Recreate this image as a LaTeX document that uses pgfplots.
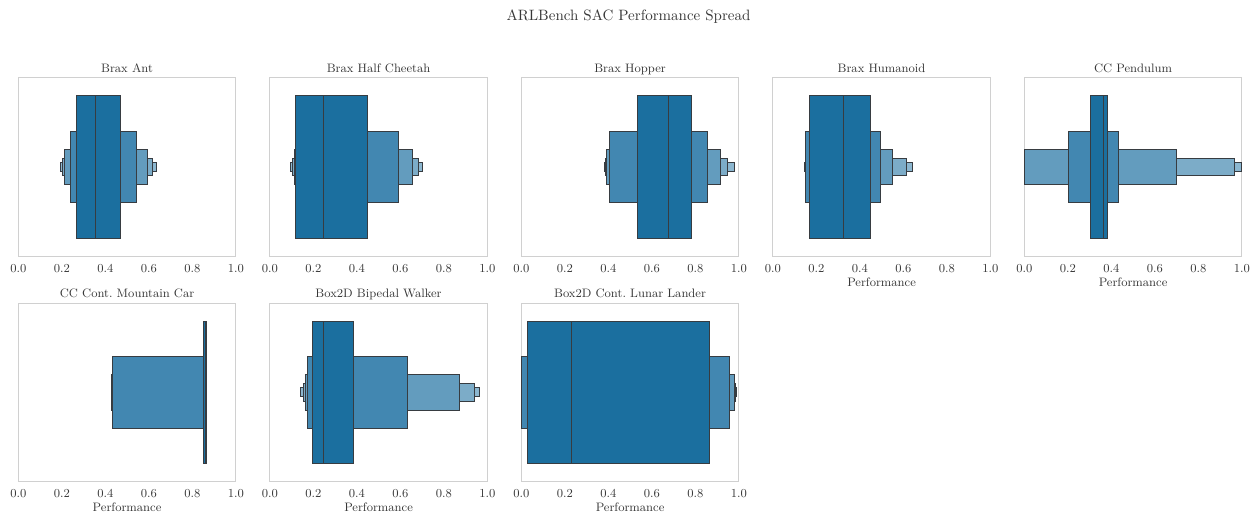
\documentclass[border=0pt]{standalone}
\usepackage{pgfplots}
\pgfplotsset{compat=1.18}

% letter-value levels, innermost (darkest) to outermost (lightest)
\definecolor{lvA}{RGB}{27,111,159}
\definecolor{lvB}{RGB}{66,135,177}
\definecolor{lvC}{RGB}{99,156,190}
\definecolor{lvD}{RGB}{124,172,200}
\definecolor{lvE}{RGB}{140,183,208}
\definecolor{edge}{RGB}{55,60,65}
\definecolor{framegray}{RGB}{208,208,208}
\definecolor{txt}{RGB}{55,55,55}

\newcommand{\fs}{\fontsize{8.8}{10.5}\selectfont}

% one letter-value box: low, high, half height, fill colour
\newcommand{\lvbox}[4]{%
  \addplot[draw=edge, line width=0.7pt, fill=#4]
    coordinates {(#1,-#3) (#2,-#3) (#2,#3) (#1,#3)} -- cycle;}
% median line across the central box
\newcommand{\lvmed}[1]{%
  \addplot[draw=edge, line width=0.7pt] coordinates {(#1,-0.4) (#1,0.4)};}

\pgfplotsset{
  panel/.style={
    scale only axis, width=156.6pt, height=128.52pt,
    anchor=south west,
    xmin=0, xmax=1, ymin=-0.5, ymax=0.5,
    xtick={0,0.2,0.4,0.6,0.8,1},
    xticklabels={0.0,0.2,0.4,0.6,0.8,1.0},
    ytick=\empty,
    major tick length=0pt,
    axis line style={draw=framegray, line width=0.8pt},
    tick label style={font=\fs, text=txt},
    xticklabel style={yshift=-2pt},
    every axis title/.style={font=\fs, text=txt, at={(0.5,1)}, anchor=base, yshift=3.9pt},
    xlabel style={font=\fs, text=txt, yshift=3pt},
    clip=false,
  },
  perf/.style={xlabel={Performance}},
}

\begin{document}
\begin{tikzpicture}
\useasboundingbox (0,0) rectangle (905.04pt,373.68pt);

\node[font=\fontsize{10.8}{13}\selectfont, text=txt] at (452.52pt,361.5pt)
  {ARLBench SAC Performance Spread};

% ---- row 1 ----
\begin{axis}[panel, at={(13.18pt,189.14pt)}, title={Brax Ant}]
  \lvbox{0.192}{0.637}{0.025}{lvE}
  \lvbox{0.201}{0.618}{0.05}{lvD}
  \lvbox{0.212}{0.595}{0.1}{lvC}
  \lvbox{0.239}{0.544}{0.2}{lvB}
  \lvbox{0.268}{0.472}{0.4}{lvA}
  \lvmed{0.357}
\end{axis}

\begin{axis}[panel, at={(194.26pt,189.14pt)}, title={Brax Half Cheetah}]
  \lvbox{0.097}{0.700}{0.025}{lvE}
  \lvbox{0.104}{0.683}{0.05}{lvD}
  \lvbox{0.112}{0.655}{0.1}{lvC}
  \lvbox{0.117}{0.592}{0.2}{lvB}
  \lvbox{0.120}{0.448}{0.4}{lvA}
  \lvmed{0.246}
\end{axis}

\begin{axis}[panel, at={(375.34pt,189.14pt)}, title={Brax Hopper}]
  \lvbox{0.384}{0.980}{0.025}{lvE}
  \lvbox{0.387}{0.948}{0.05}{lvD}
  \lvbox{0.393}{0.914}{0.1}{lvC}
  \lvbox{0.407}{0.856}{0.2}{lvB}
  \lvbox{0.536}{0.782}{0.4}{lvA}
  \lvmed{0.676}
\end{axis}

\begin{axis}[panel, perf, at={(556.42pt,189.14pt)}, title={Brax Humanoid}]
  \lvbox{0.146}{0.642}{0.025}{lvE}
  \lvbox{0.148}{0.614}{0.05}{lvD}
  \lvbox{0.149}{0.549}{0.1}{lvC}
  \lvbox{0.152}{0.495}{0.2}{lvB}
  \lvbox{0.169}{0.451}{0.4}{lvA}
  \lvmed{0.323}
\end{axis}

\begin{axis}[panel, perf, at={(737.50pt,189.14pt)}, title={CC Pendulum}]
  \lvbox{0.000}{0.997}{0.025}{lvE}
  \lvbox{0.000}{0.968}{0.05}{lvD}
  \lvbox{0.000}{0.698}{0.1}{lvC}
  \lvbox{0.202}{0.435}{0.2}{lvB}
  \lvbox{0.306}{0.383}{0.4}{lvA}
  \lvmed{0.363}
\end{axis}

% ---- row 2 ----
\begin{axis}[panel, perf, at={(13.18pt,26.86pt)}, title={CC Cont.\ Mountain Car}]
  \lvbox{0.430}{0.866}{0.025}{lvE}
  \lvbox{0.430}{0.866}{0.05}{lvD}
  \lvbox{0.430}{0.866}{0.1}{lvC}
  \lvbox{0.431}{0.865}{0.2}{lvB}
  \lvbox{0.851}{0.865}{0.4}{lvA}
  \lvmed{0.859}
\end{axis}

\begin{axis}[panel, perf, at={(194.26pt,26.86pt)}, title={Box2D Bipedal Walker}]
  \lvbox{0.142}{0.965}{0.025}{lvE}
  \lvbox{0.154}{0.942}{0.05}{lvD}
  \lvbox{0.163}{0.872}{0.1}{lvC}
  \lvbox{0.175}{0.632}{0.2}{lvB}
  \lvbox{0.195}{0.385}{0.4}{lvA}
  \lvmed{0.246}
\end{axis}

\begin{axis}[panel, perf, at={(375.34pt,26.86pt)}, title={Box2D Cont.\ Lunar Lander}]
  \lvbox{0.000}{0.990}{0.025}{lvE}
  \lvbox{0.000}{0.985}{0.05}{lvD}
  \lvbox{0.001}{0.978}{0.1}{lvC}
  \lvbox{0.003}{0.955}{0.2}{lvB}
  \lvbox{0.029}{0.865}{0.4}{lvA}
  \lvmed{0.230}
\end{axis}
\end{tikzpicture}
\end{document}
